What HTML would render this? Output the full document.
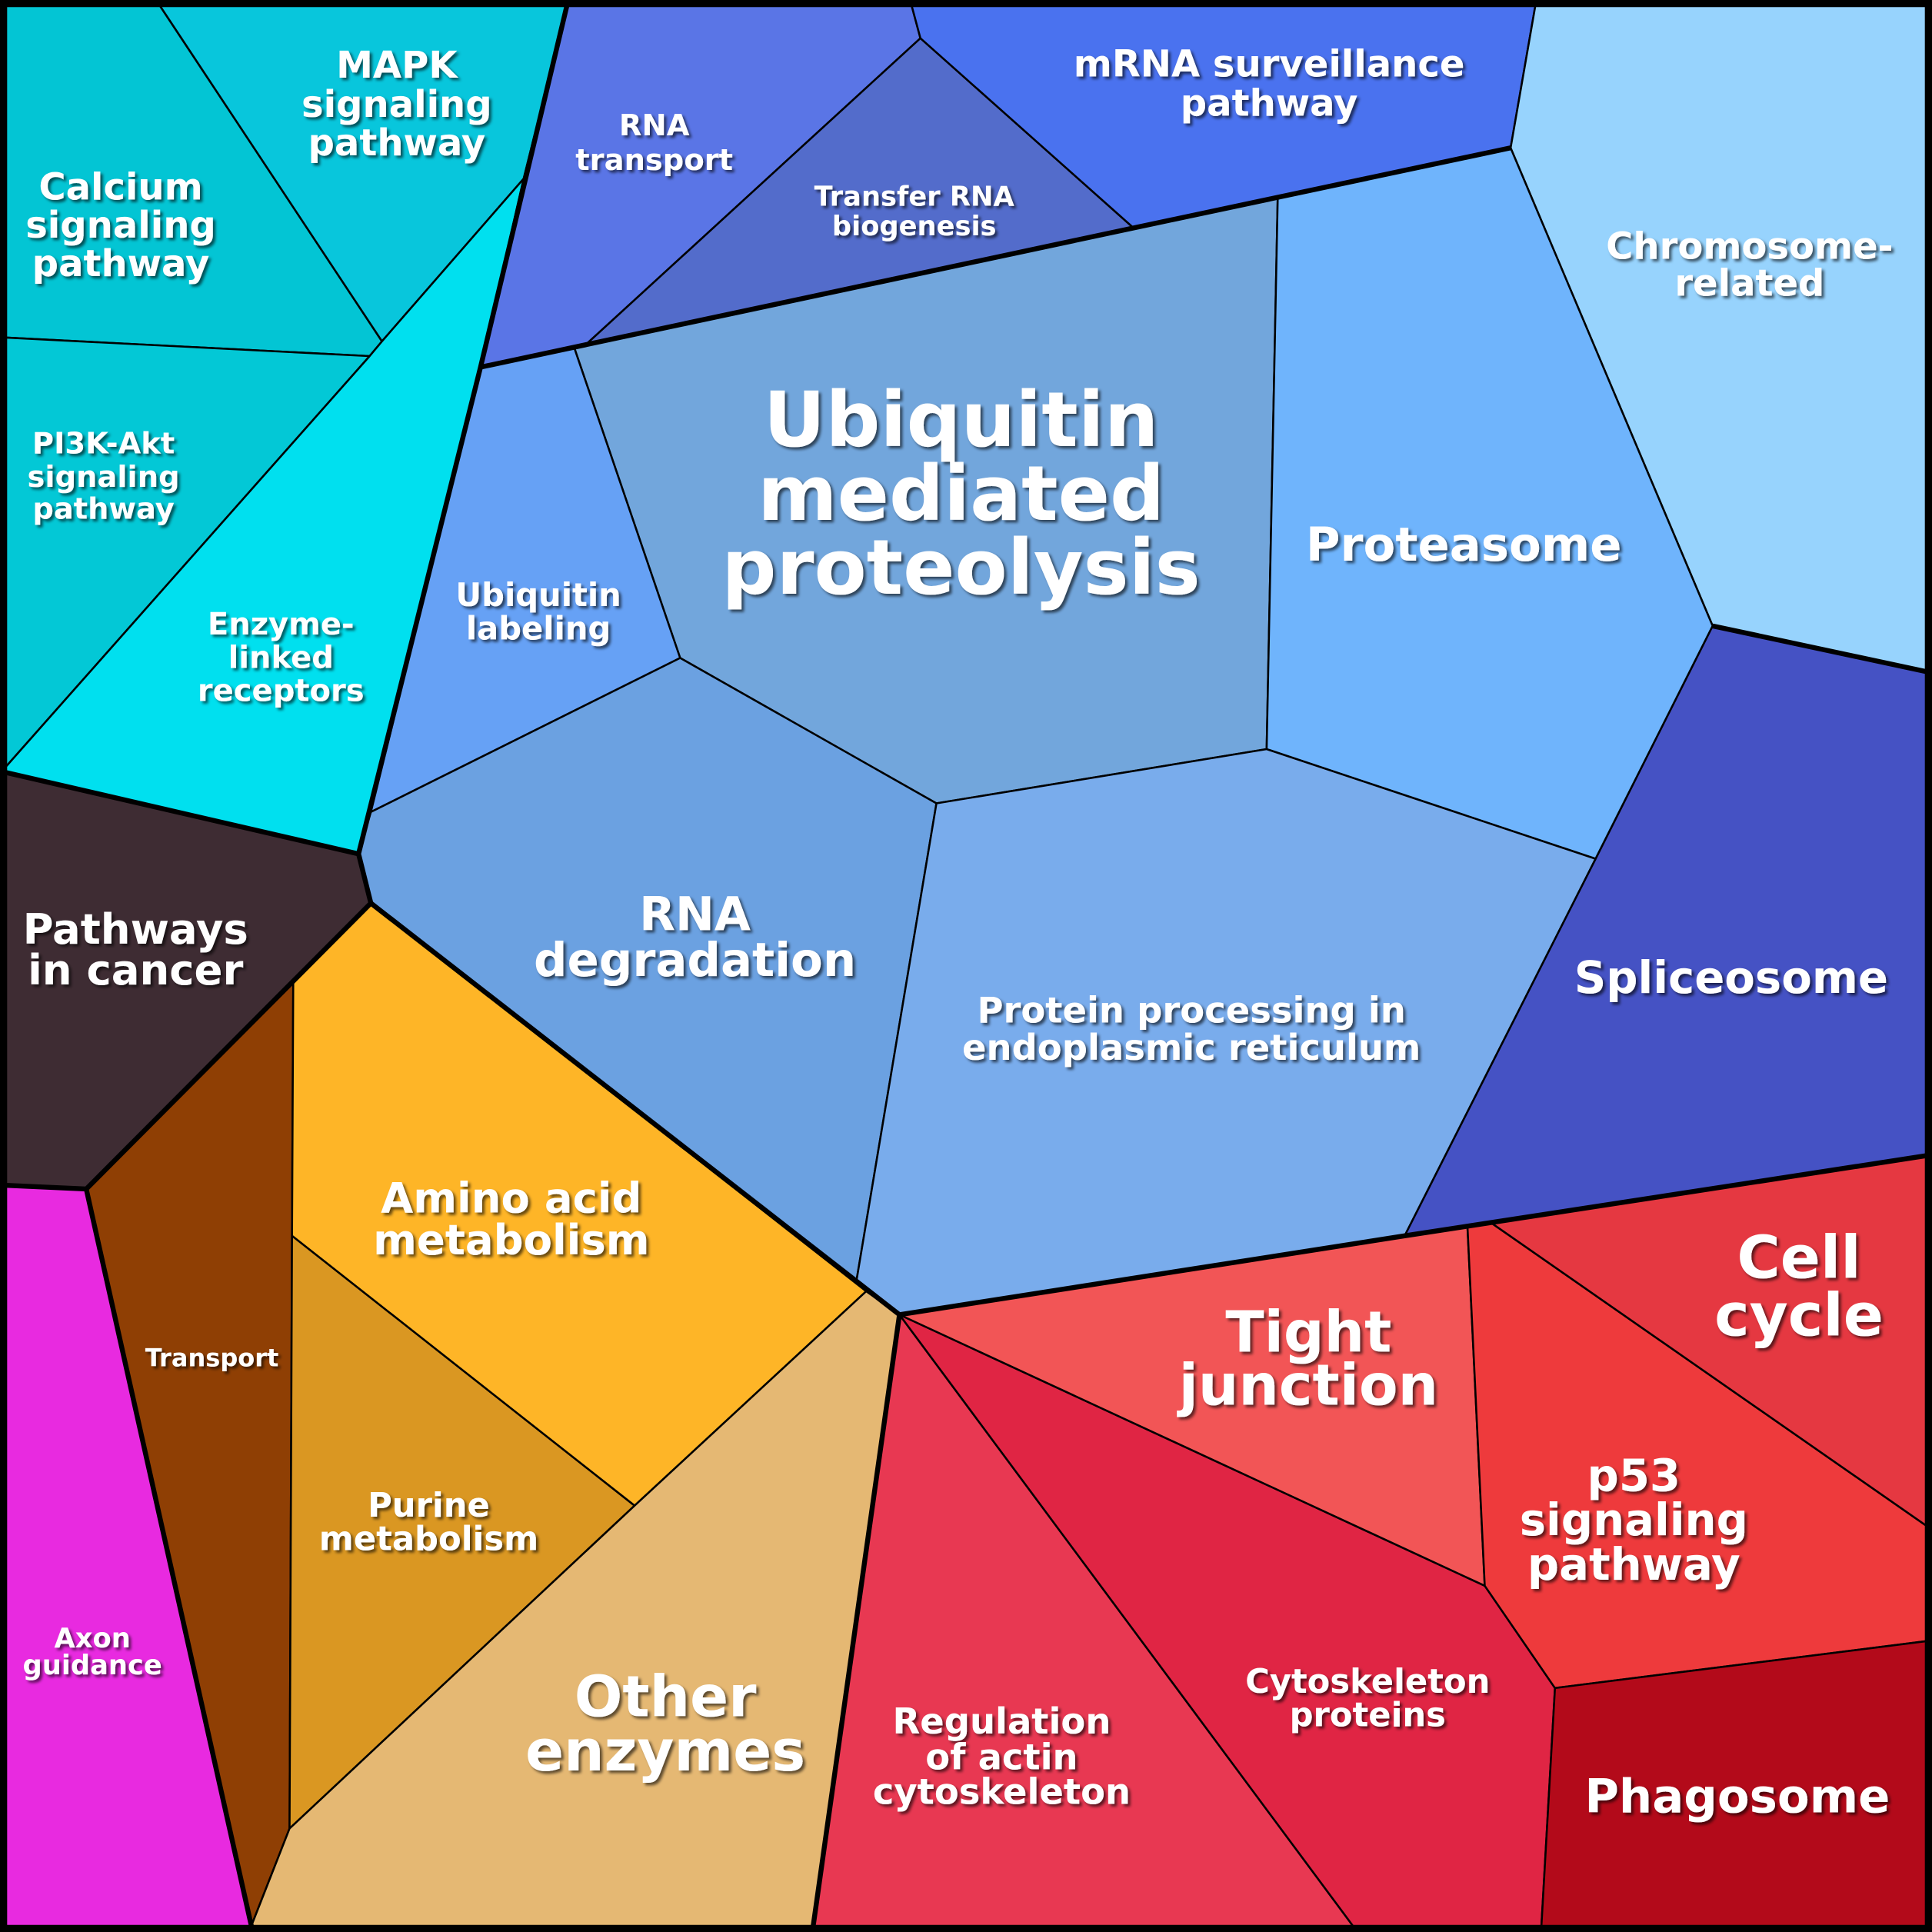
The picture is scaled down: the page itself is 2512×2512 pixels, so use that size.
<!DOCTYPE html>
<html><head><meta charset="utf-8"><style>
html,body{margin:0;padding:0;background:#000;}
svg{display:block;}
text{font-family:"DejaVu Sans","Liberation Sans",sans-serif;font-weight:bold;fill:#fff;text-anchor:middle;filter:url(#sh);}
</style></head><body>
<svg width="2512" height="2512" viewBox="0 0 1568 1568" xmlns="http://www.w3.org/2000/svg">
<defs><filter id="sh" x="-10%" y="-10%" width="130%" height="140%"><feDropShadow dx="2" dy="2" stdDeviation="1.2" flood-color="#000" flood-opacity="0.6"/></filter></defs>
<rect width="1568" height="1568" fill="#000"/>
<g stroke="#000" stroke-width="1.6" stroke-linejoin="round">
<polygon fill="#03c5d4" points="5,5 130,5 310,277 300,289 5,274"/>
<polygon fill="#08c6dc" points="130,5 460,5 425,145 310,277"/>
<polygon fill="#03c8d6" points="5,274 300,289 5,622"/>
<polygon fill="#00e0ef" points="425,145 390,298 291,693 5,627 5,622 300,289 310,277"/>
<polygon fill="#5a75e6" points="460,5 740,5 747,31 474,281 390,298 425,145"/>
<polygon fill="#536ccb" points="747,31 920,185 474,281"/>
<polygon fill="#4a72ef" points="740,5 1246,5 1226,120 1037,160 920,185 747,31"/>
<polygon fill="#97d3fd" points="1246,5 1563,5 1563,545 1390,508 1226,120"/>
<polygon fill="#72a6dc" points="466,282 920,185 1037,160 1028,608 760,652 552,534"/>
<polygon fill="#6fb4fc" points="1037,160 1226,120 1390,508 1295,697 1028,608"/>
<polygon fill="#66a1f5" points="390,298 466,282 552,534 301,659"/>
<polygon fill="#6ba1e1" points="301,659 552,534 760,652 695,1040 301,733 291,693"/>
<polygon fill="#79acec" points="760,652 1028,608 1295,697 1140,1003 730,1067 703,1048 695,1040"/>
<polygon fill="#4552c4" points="1390,508 1563,545 1563,938 1140,1003 1295,697"/>
<polygon fill="#3e2c33" points="5,627 291,693 301,733 238,797 70,965 5,962"/>
<polygon fill="#8f3f04" points="70,965 238,797 237,1003 235,1484 204,1563"/>
<polygon fill="#e82ae0" points="5,962 70,965 204,1563 5,1563"/>
<polygon fill="#feb527" points="238,797 301,733 703,1048 515,1222 237,1003"/>
<polygon fill="#da9722" points="237,1003 515,1222 235,1484"/>
<polygon fill="#e5b873" points="703,1048 730,1067 660,1563 204,1563 235,1484 515,1222"/>
<polygon fill="#e83852" points="730,1067 1098,1563 660,1563"/>
<polygon fill="#e02544" points="730,1067 1205,1287 1262,1370 1251,1563 1098,1563"/>
<polygon fill="#f25556" points="730,1067 1140,1003 1191,996 1205,1287"/>
<polygon fill="#ee3a3c" points="1191,996 1211,993 1563,1238 1563,1332 1262,1370 1205,1287"/>
<polygon fill="#e53841" points="1140,1003 1563,938 1563,1238 1211,993 1191,996"/>
<polygon fill="#b30a1a" points="1262,1370 1563,1332 1563,1563 1251,1563"/>
</g>
<g fill="none" stroke="#000" stroke-width="4" stroke-linejoin="round">
<polyline points="460,5 390,298 291,693 5,627"/>
<polyline points="291,693 301,733 70,965 5,962"/>
<polyline points="70,965 204,1563"/>
<polyline points="301,733 730,1067 660,1563"/>
<polyline points="390,298 920,185 1226,120"/>
<polyline points="1390,508 1563,545"/>
<polyline points="730,1067 1140,1003 1563,938"/>
<rect x="3" y="3" width="1562" height="1562"/>
</g>
<text font-size="30"><tspan x="98" y="162">Calcium</tspan><tspan x="98" y="193">signaling</tspan><tspan x="98" y="224">pathway</tspan></text>
<text font-size="30"><tspan x="322" y="63">MAPK</tspan><tspan x="322" y="95">signaling</tspan><tspan x="322" y="126">pathway</tspan></text>
<text font-size="24"><tspan x="84" y="368">PI3K-Akt</tspan><tspan x="84" y="395">signaling</tspan><tspan x="84" y="421">pathway</tspan></text>
<text font-size="25"><tspan x="228" y="515">Enzyme-</tspan><tspan x="228" y="542">linked</tspan><tspan x="228" y="569">receptors</tspan></text>
<text font-size="24"><tspan x="531" y="110">RNA</tspan><tspan x="531" y="138">transport</tspan></text>
<text font-size="22"><tspan x="742" y="167">Transfer RNA</tspan><tspan x="742" y="191">biogenesis</tspan></text>
<text font-size="30"><tspan x="1030" y="62">mRNA surveillance</tspan><tspan x="1030" y="94">pathway</tspan></text>
<text font-size="30"><tspan x="1420" y="210">Chromosome-</tspan><tspan x="1420" y="240">related</tspan></text>
<text font-size="62"><tspan x="780" y="362">Ubiquitin</tspan><tspan x="780" y="422">mediated</tspan><tspan x="780" y="482">proteolysis</tspan></text>
<text font-size="38" x="1188" y="455">Proteasome</text>
<text font-size="26"><tspan x="437" y="492">Ubiquitin</tspan><tspan x="437" y="519">labeling</tspan></text>
<text font-size="38"><tspan x="564" y="755">RNA</tspan><tspan x="564" y="792">degradation</tspan></text>
<text font-size="29"><tspan x="967" y="830">Protein processing in</tspan><tspan x="967" y="860">endoplasmic reticulum</tspan></text>
<text font-size="36" x="1405" y="806">Spliceosome</text>
<text font-size="34"><tspan x="110" y="766">Pathways</tspan><tspan x="110" y="799">in cancer</tspan></text>
<text font-size="20" x="172" y="1109">Transport</text>
<text font-size="22"><tspan x="75" y="1337">Axon</tspan><tspan x="75" y="1359">guidance</tspan></text>
<text font-size="34"><tspan x="415" y="984">Amino acid</tspan><tspan x="415" y="1018">metabolism</tspan></text>
<text font-size="27"><tspan x="348" y="1231">Purine</tspan><tspan x="348" y="1258">metabolism</tspan></text>
<text font-size="46"><tspan x="540" y="1393">Other</tspan><tspan x="540" y="1437">enzymes</tspan></text>
<text font-size="29"><tspan x="813" y="1407">Regulation</tspan><tspan x="813" y="1436">of actin</tspan><tspan x="813" y="1464">cytoskeleton</tspan></text>
<text font-size="27"><tspan x="1110" y="1374">Cytoskeleton</tspan><tspan x="1110" y="1401">proteins</tspan></text>
<text font-size="46"><tspan x="1062" y="1097">Tight</tspan><tspan x="1062" y="1140">junction</tspan></text>
<text font-size="36"><tspan x="1326" y="1210">p53</tspan><tspan x="1326" y="1246">signaling</tspan><tspan x="1326" y="1282">pathway</tspan></text>
<text font-size="48"><tspan x="1460" y="1037">Cell</tspan><tspan x="1460" y="1084">cycle</tspan></text>
<text font-size="38" x="1410" y="1471">Phagosome</text>
</svg>
</body></html>
